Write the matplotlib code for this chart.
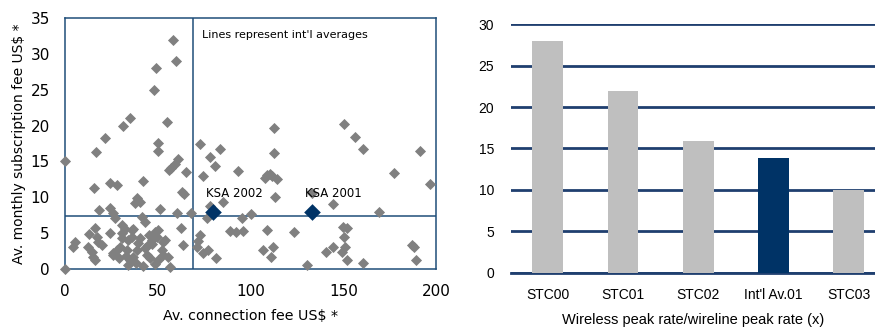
import matplotlib.pyplot as plt

# scatter: connection fee vs monthly fee, one point per operator
conn_fee = [0, 0, 5.4, 4.5, 12.8, 12.6, 15.5, 16.9, 18.3, 21.8, 16.2, 17.1, 17.9, 19.8,
            14.4, 15.3, 16.2, 24.0, 28.1, 24.3, 26.0, 27.0, 24.3, 30.5, 32.3, 30.8,
            30.5, 34.1, 35.9, 33.2, 35.0, 34.1, 26.0, 27.9, 29.6, 26.0, 31.0, 35.0,
            41.9, 39.0, 40.4, 37.7, 41.3, 43.1, 36.6, 35.9, 40.4, 39.5, 38.6, 36.8,
            42.2, 48.5, 49.4, 46.7, 44.9, 43.1, 50.3, 53.9, 53.0, 52.1, 53.0, 55.7,
            50.3, 48.5, 56.4, 45.5, 47.0, 44.0, 46.0, 38.0, 33.0, 29.0,
            48.0, 49.2, 58.0, 60.1, 55.2, 50.3, 50.0, 61.0, 59.2, 57.2, 55.9, 65.4,
            62.9, 64.2, 51.2, 60.2, 68.0, 62.7, 63.8,
            72.8, 78.3, 74.6, 81.1, 83.7, 78.2, 85.0, 76.5, 72.8, 71.9, 71.0, 74.6,
            77.2, 81.3, 88.8, 92.4, 96.1, 93.4, 95.2, 100.2, 106.6, 109.0, 112.0,
            111.3, 112.7, 112.4, 107.9, 108.8, 110.5, 111.8, 114.2, 113.1, 123.5,
            130.7, 133.0, 144.4, 140.9, 144.4, 150.3, 156.2, 160.7, 149.8, 152.1,
            150.6, 151.2, 149.3, 152.1, 160.8, 169.2, 177.5, 186.9, 188.0, 189.4,
            191.4, 196.7]
sub_fee = [15.0, 0.0, 3.8, 3.1, 4.9, 3.1, 11.3, 16.3, 8.2, 18.3, 5.7, 4.5, 3.8, 3.35,
           2.4, 1.6, 1.2, 12.0, 11.7, 8.5, 7.8, 7.1, 5.0, 5.0, 5.6, 6.2,
           4.3, 4.0, 5.4, 2.65, 1.25, 0.5, 2.2, 2.65, 3.1, 1.9, 19.9, 21.0,
           12.3, 9.9, 9.4, 9.2, 7.3, 6.6, 5.6, 4.5, 4.3, 3.6, 2.65, 1.7,
           0.4, 5.2, 4.5, 4.0, 3.35, 2.9, 5.5, 4.0, 3.8, 2.65, 1.95, 1.7,
           1.25, 0.7, 0.3, 4.8, 3.5, 2.0, 1.5, 0.8, 1.8, 1.5,
           25.0, 28.1, 32.0, 29.0, 20.5, 17.5, 16.5, 15.3, 14.6, 14.1, 13.8, 13.5,
           10.7, 10.5, 8.4, 7.8, 7.8, 5.7, 3.4,
           17.4, 15.6, 12.9, 14.3, 16.7, 8.8, 9.3, 7.1, 4.8, 3.9, 3.1, 2.2,
           2.6, 1.5, 5.3, 5.2, 5.3, 13.6, 7.1, 7.7, 2.6, 5.5, 3.0,
           1.7, 19.6, 16.2, 12.7, 13.1, 13.3, 13.0, 12.5, 10.0, 5.2,
           0.5, 10.6, 9.0, 2.4, 3.1, 20.2, 18.4, 16.8, 5.9, 5.7,
           4.4, 3.0, 2.3, 1.2, 0.9, 7.95, 13.4, 3.3, 3.1, 1.25,
           16.4, 11.8]

ksa_names = ["KSA 2002", "KSA 2001"]
ksa_conn = [79.8, 133.2]
ksa_sub = [7.95, 7.95]

avg_conn = 69.0
avg_sub = 7.4

# bar chart: wireless / wireline peak rate ratio
bar_labels = ["STC00", "STC01", "STC02", "Int'l Av.01", "STC03"]
bar_values = [28.0, 22.0, 15.9, 13.9, 10.0]
bar_colors = ["#BFBFBF", "#BFBFBF", "#BFBFBF", "#003366", "#BFBFBF"]

navy = "#1F4E79"

fig = plt.figure(figsize=(8.75, 3.28), dpi=100)

# ---- left: scatter ----
ax1 = fig.add_axes([0.0743, 0.18, 0.424, 0.765])
ax1.scatter(conn_fee, sub_fee, marker="D", s=32, color="#808080", linewidths=0,
            zorder=3, clip_on=False)
ax1.scatter(ksa_conn, ksa_sub, marker="D", s=72, color="#003366", linewidths=0, zorder=4)
for name, x, y in zip(ksa_names, ksa_conn, ksa_sub):
    ax1.text(x - 4, y + 1.6, name, fontsize=8.5, ha="left", va="bottom", zorder=5)
ax1.axvline(avg_conn, color=navy, lw=1.1, zorder=2)
ax1.axhline(avg_sub, color=navy, lw=1.1, zorder=2)
ax1.text(avg_conn + 5, 32.6, "Lines represent int'l averages", fontsize=8, va="center")
ax1.set_xlim(0, 200)
ax1.set_ylim(0, 35)
ax1.set_xticks([0, 50, 100, 150, 200])
ax1.set_yticks(range(0, 36, 5))
for sp in ax1.spines.values():
    sp.set_color(navy)
    sp.set_linewidth(1.1)
ax1.tick_params(length=0, labelsize=11)
ax1.tick_params(axis="x", pad=11)
ax1.tick_params(axis="y", pad=11)
ax1.set_xlabel("Av. connection fee US$ *", fontsize=10.3, labelpad=7)
ax1.set_ylabel("Av. monthly subscription fee US$ *", fontsize=10, labelpad=3)

# ---- right: bars ----
ax2 = fig.add_axes([0.584, 0.1686, 0.416, 0.7574])
xs = range(len(bar_labels))
ax2.bar(xs, bar_values, width=0.41, color=bar_colors, zorder=3)
ax2.set_xlim(-0.488, 4.35)
ax2.set_ylim(0, 30)
ax2.set_yticks(range(0, 31, 5))
ax2.grid(axis="y", color="#1F3F6F", lw=2, zorder=0)
ax2.set_axisbelow(True)
for sp in ["top", "right", "left"]:
    ax2.spines[sp].set_visible(False)
ax2.spines["bottom"].set_color("#1F3F6F")
ax2.spines["bottom"].set_linewidth(2)
ax2.set_xticks(list(xs))
ax2.set_xticklabels(bar_labels, family="Liberation Sans", fontsize=9.5)
for lab in ax2.get_yticklabels():
    lab.set_family("Liberation Sans")
ax2.tick_params(length=0, labelsize=10)
ax2.tick_params(axis="x", pad=11)
ax2.tick_params(axis="y", pad=12)
ax2.set_xlabel("Wireless peak rate/wireline peak rate (x)", family="Liberation Sans",
               fontsize=10.5, labelpad=8)

fig.savefig("out.png", dpi=100)
